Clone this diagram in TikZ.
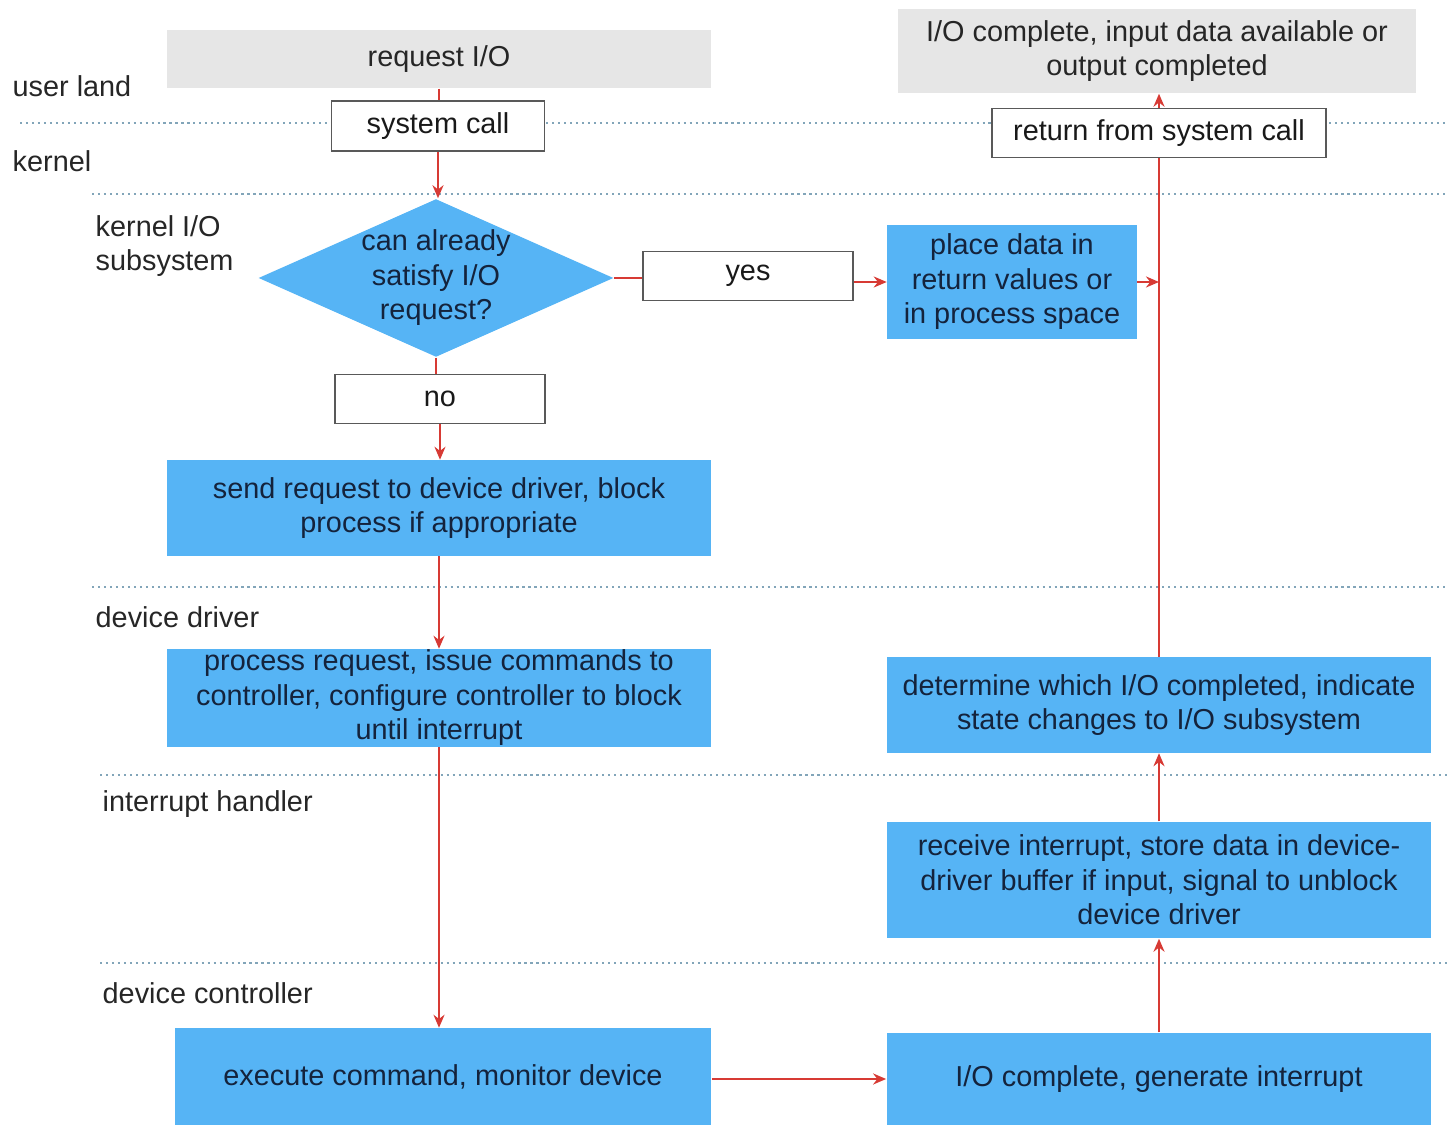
\documentclass[tikz,border=0pt]{standalone}
\usepackage{fontspec}
\setmainfont{Liberation Sans}
\usetikzlibrary{shapes.geometric,arrows.meta}
\definecolor{boxblue}{RGB}{86,180,245}
\definecolor{boxgrey}{RGB}{230,230,230}
\definecolor{flowred}{RGB}{215,58,52}
\definecolor{lanedot}{RGB}{130,165,185}
\definecolor{inktext}{RGB}{20,35,60}
\begin{document}
\begin{tikzpicture}[x=0.01cm,y=-0.01cm,font=\fontsize{8.2}{9.8}\selectfont]
        \tikzstyle{greybox}=[fill=boxgrey,text=black!85,align=center,inner sep=0pt]
        \tikzstyle{plainbox}=[draw=black!65,fill=white,line width=0.5pt,text=black!90,inner sep=0pt]
        \tikzstyle{bluebox}=[fill=boxblue,text=inktext,align=center,inner sep=0pt]
        \tikzstyle{decision}=[diamond,fill=boxblue,inner sep=0pt,minimum width=3.55cm,minimum height=1.58cm]
        \tikzstyle{lane}=[lanedot,line width=0.7pt,dash pattern=on 0.6pt off 1.1pt]
        \tikzstyle{lanelabel}=[anchor=west,text=black!85,inner sep=0pt,align=left]
        \tikzstyle{link}=[flowred,line width=0.75pt]
        \tikzstyle{flow}=[link,-{Stealth[length=1.3mm,width=1.1mm]}]
        \useasboundingbox (0,0) rectangle (1448,1125);
       % lanes
         \draw[lane] (20,123) -- (1448,123);
         \draw[lane] (92,194) -- (1448,194);
         \draw[lane] (92,587) -- (1448,587);
         \draw[lane] (100,775) -- (1448,775);
         \draw[lane] (100,963) -- (1448,963);
         \node [lanelabel] (l1) at (12,86) {user land};
         \node [lanelabel] (l2) at (12,161) {kernel};
         \node [lanelabel] (l3) at (95,246) {kernel I/O\\subsystem};
         \node [lanelabel] (l4) at (95,617) {device driver};
         \node [lanelabel] (l5) at (102,804) {interrupt handler};
         \node [lanelabel] (l6) at (102,993) {device controller};
       % left column
         \node [greybox,minimum width=5.44cm,minimum height=0.58cm] (req) at (439,59) {request I/O};
         \node [plainbox,minimum width=2.13cm,minimum height=0.50cm] (sys) at (438,126) {system call};
         \node [decision] (dec) at (436,278) {};
         \node [text=inktext,align=center,inner sep=0pt] (dectext) at (dec.center) {can already\\satisfy I/O\\request?};
         \node [plainbox,minimum width=2.10cm,minimum height=0.49cm] (yes) at (748,276) {yes};
         \node [plainbox,minimum width=2.10cm,minimum height=0.49cm] (no) at (440,399) {no};
         \node [bluebox,minimum width=5.44cm,minimum height=0.95cm] (send) at (439,508) {send request to device driver, block\\process if appropriate};
         \node [bluebox,minimum width=5.44cm,minimum height=0.97cm] (proc) at (439,698) {process request, issue commands to\\controller, configure controller to block\\until interrupt};
         \node [bluebox,minimum width=5.36cm,minimum height=0.97cm] (exec) at (443,1077) {execute command, monitor device};
       % right column
         \node [greybox,minimum width=5.18cm,minimum height=0.84cm] (done) at (1157,51) {I/O complete, input data available or\\output completed};
         \node [plainbox,minimum width=3.34cm,minimum height=0.49cm] (ret) at (1159,133) {return from system call};
         \node [bluebox,minimum width=2.49cm,minimum height=1.13cm] (place) at (1012,282) {place data in\\return values or\\in process space};
         \node [bluebox,minimum width=5.44cm,minimum height=0.95cm] (det) at (1159,705) {determine which I/O completed, indicate\\state changes to I/O subsystem};
         \node [bluebox,minimum width=5.44cm,minimum height=1.16cm] (recv) at (1159,880) {receive interrupt, store data in device-\\driver buffer if input, signal to unblock\\device driver};
         \node [bluebox,minimum width=5.44cm,minimum height=0.92cm] (gen) at (1159,1079) {I/O complete, generate interrupt};
       % connectors
         \draw[link] (req.south) -- (req.south |- sys.north);
         \draw[flow] (sys.south) -- (sys.south |- dec.north);
         \draw[link] (dec.east) -- (dec.east -| yes.west);
         \draw[flow] (yes.east |- place.west) -- (place.west);
         \draw[flow] (place.east) -- (place.east -| det.north);
         \draw[link] (dec.south) -- (dec.south |- no.north);
         \draw[flow] (no.south) -- (no.south |- send.north);
         \draw[flow] (send.south) -- (send.south |- proc.north);
         \draw[flow] (proc.south) -- (proc.south |- exec.north);
         \draw[flow] (exec.east |- gen.west) -- (gen.west);
         \draw[flow] (gen.north) -- (gen.north |- recv.south);
         \draw[flow] (recv.north) -- (recv.north |- det.south);
         \draw[link] (det.north) -- (det.north |- ret.south);
         \draw[flow] (ret.north) -- (ret.north |- done.south);
      \end{tikzpicture}
\end{document}
